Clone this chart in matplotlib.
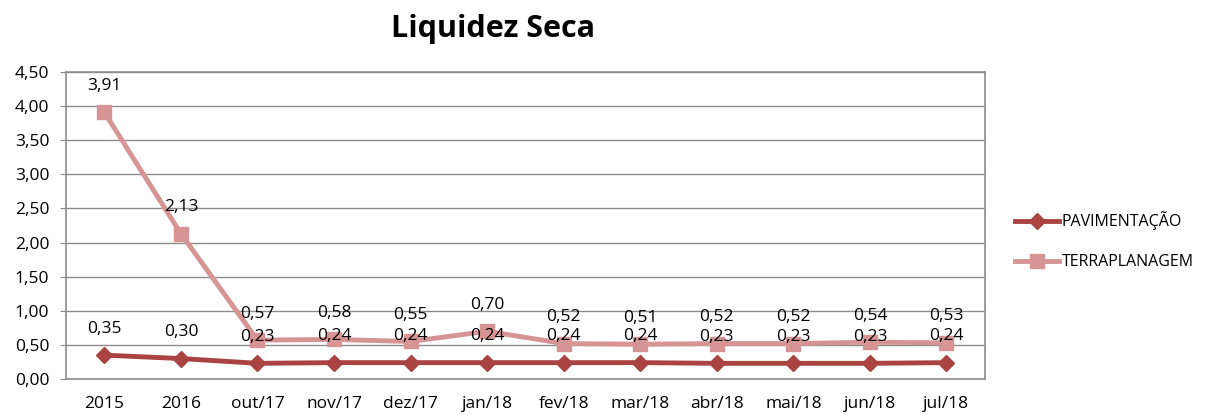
import matplotlib.pyplot as plt
from matplotlib.ticker import FuncFormatter

categories = ["2015", "2016", "out/17", "nov/17", "dez/17", "jan/18",
              "fev/18", "mar/18", "abr/18", "mai/18", "jun/18", "jul/18"]
pavimentacao = [0.35, 0.30, 0.23, 0.24, 0.24, 0.24, 0.24, 0.24, 0.23, 0.23, 0.23, 0.24]
terraplanagem = [3.91, 2.13, 0.57, 0.58, 0.55, 0.70, 0.52, 0.51, 0.52, 0.52, 0.54, 0.53]

plt.rcParams["font.family"] = ["Open Sans", "DejaVu Sans"]

DARK = "#A94442"
LIGHT = "#D69494"
GRID = "#8C8C8C"

fig = plt.figure(figsize=(12.12, 4.15), dpi=100)
ax = fig.add_axes([0.0545, 0.0867, 0.758, 0.7398])

x = list(range(len(categories)))
ax.plot(x, pavimentacao, color=DARK, lw=3.5, marker="D", ms=8, label="PAVIMENTAÇÃO", zorder=3)
ax.plot(x, terraplanagem, color=LIGHT, lw=3.5, marker="s", ms=10, label="TERRAPLANAGEM", zorder=2)

def fmt(v):
    return f"{v:.2f}".replace(".", ",")

for xi, v in zip(x, pavimentacao):
    ax.annotate(fmt(v), (xi, v), xytext=(0, 19), textcoords="offset points",
                ha="center", va="center", fontsize=12.5, zorder=4)
for xi, v in zip(x, terraplanagem):
    ax.annotate(fmt(v), (xi, v), xytext=(0, 19), textcoords="offset points",
                ha="center", va="center", fontsize=12.5, zorder=4)

ax.set_xlim(-0.5, len(categories) - 0.5)
ax.set_ylim(0, 4.5)
ax.set_yticks([i * 0.5 for i in range(10)])
ax.yaxis.set_major_formatter(FuncFormatter(lambda v, p: fmt(v)))
ax.set_xticks(x)
ax.set_xticklabels(categories)
ax.tick_params(axis="x", length=0, pad=12, labelsize=12.5)
ax.tick_params(axis="y", length=4, color=GRID, pad=8, labelsize=12.5)
ax.grid(axis="y", color=GRID, lw=1)
ax.set_axisbelow(True)
for s in ax.spines.values():
    s.set_color(GRID)
    s.set_linewidth(1.2)

fig.text(0.407, 0.93, "Liquidez Seca", ha="center", va="center",
         fontsize=22, fontweight="bold")

fig.legend(loc="center left", bbox_to_anchor=(0.826, 0.42), frameon=False,
           fontsize=11.5, handlelength=2.7, handletextpad=0.2, labelspacing=1.5)

fig.savefig("out.png", dpi=100)
